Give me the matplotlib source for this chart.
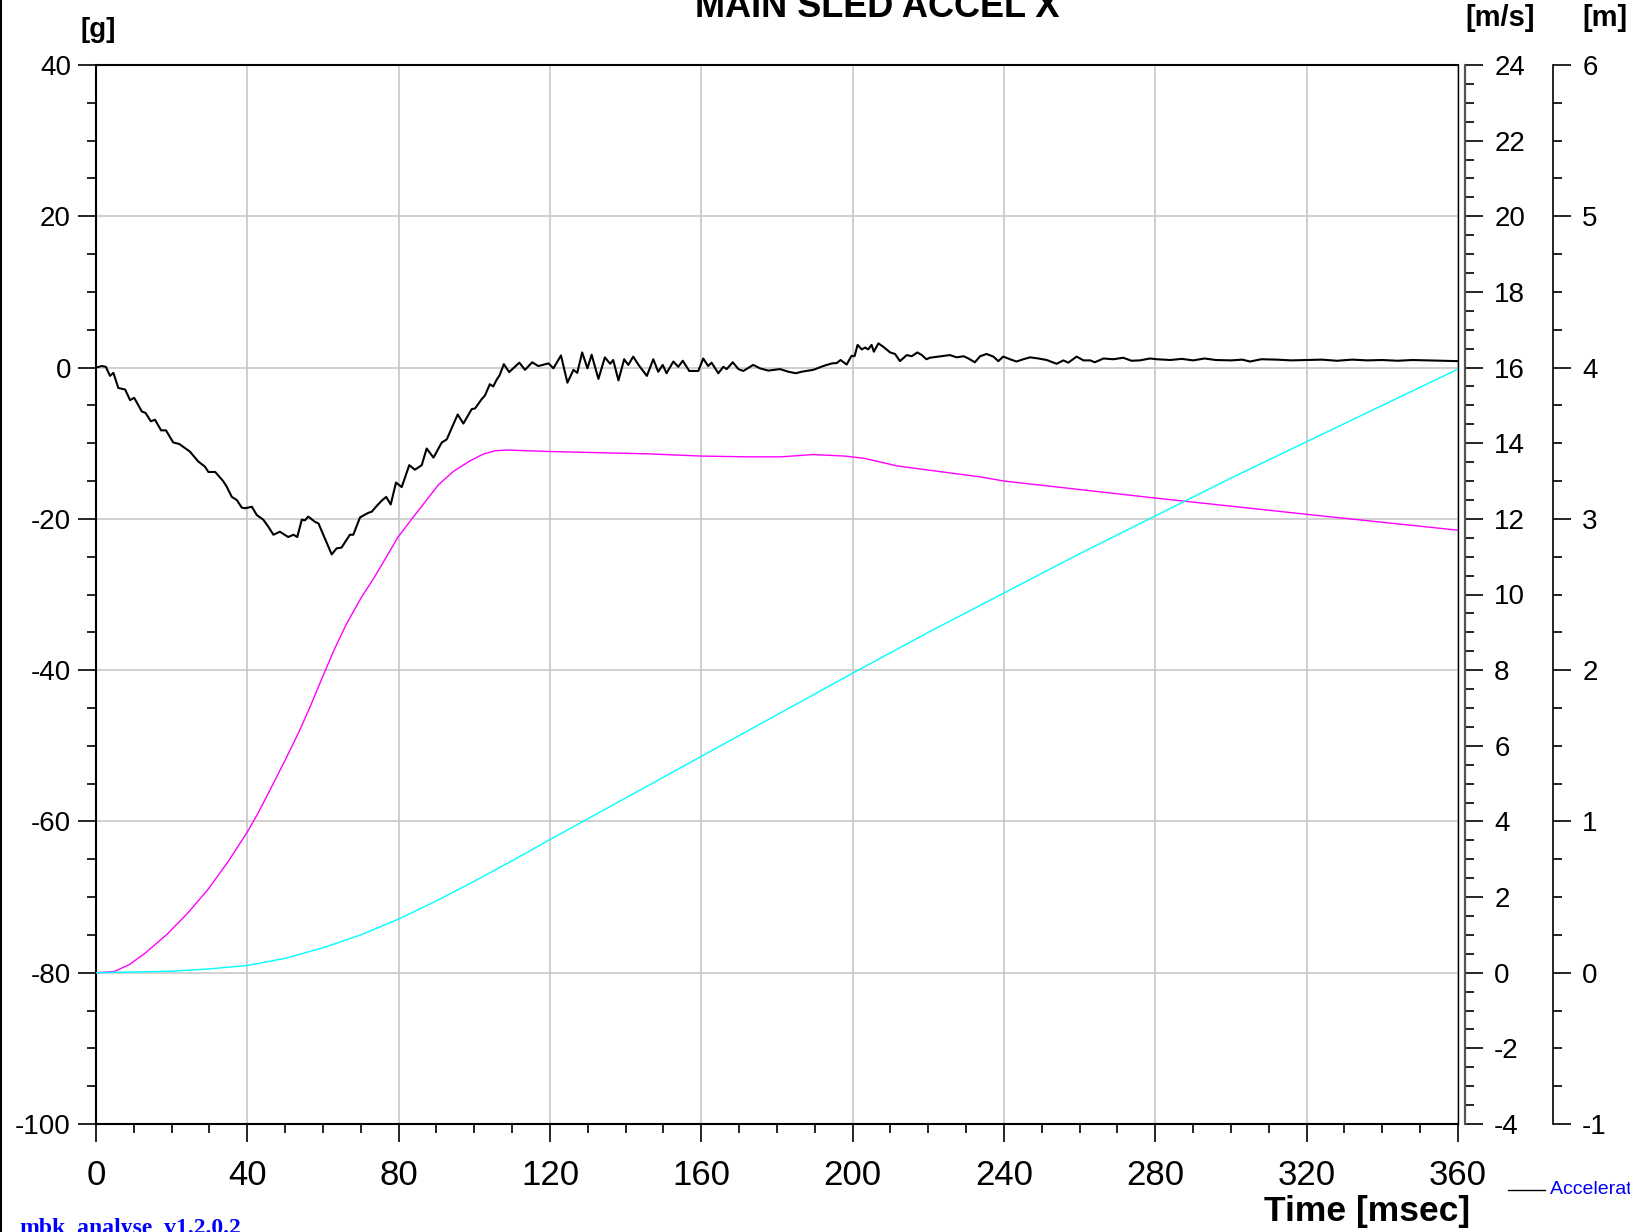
import matplotlib
matplotlib.use("Agg")
import matplotlib.pyplot as plt
from matplotlib.ticker import MultipleLocator
from matplotlib.lines import Line2D

plt.rcParams['font.family'] = ['Liberation Sans', 'DejaVu Sans']
plt.rcParams['axes.unicode_minus'] = False

# acceleration [g] (black)
acc_t = [0, 1.5, 2.6, 3.7, 4.6, 5.9, 7.7, 9.0, 10.1, 12.1, 13.1, 14.5, 15.6, 17.2, 18.5,
         20.4, 22.0, 24.8, 27.0, 28.8, 29.7, 31.5, 33.6, 34.5, 35.9, 37.2, 38.5, 39.4,
         41.2, 42.5, 44.2, 45.5, 46.9, 48.6, 50.8, 52.2, 53.2, 54.4, 55.2, 56.1, 57.9,
         58.8, 60.5, 62.3, 63.6, 64.9, 67.1, 68.0, 69.8, 72.0, 72.9, 74.0, 75.5, 76.7,
         77.9, 79.3, 80.8, 82.8, 84.3, 86.1, 87.4, 89.2, 91.4, 92.7, 95.6, 97.1, 99.3,
         100.2, 101.9, 102.8, 104.1, 105.0, 105.9, 106.7, 107.8, 109.2, 111.9, 113.4,
         115.3, 116.9, 119.6, 120.9, 122.9, 124.6, 126.2, 127.2, 128.5, 129.9, 131.0,
         132.8, 134.5, 135.9, 136.7, 138.1, 139.6, 140.7, 142.0, 143.4, 145.6, 147.3,
         148.6, 149.8, 150.8, 152.6, 153.9, 155.1, 156.8, 159.2, 160.5, 161.8, 162.7,
         164.5, 165.8, 166.7, 168.3, 169.8, 171.1, 173.7, 175.5, 177.7, 180.8, 183.0,
         185.0, 186.5, 189.6, 192.2, 194.5, 195.8, 196.8, 198.4, 199.7, 200.5, 201.3,
         202.4, 203.3, 204.1, 205.0, 205.6, 206.8, 208.1, 209.9, 211.2, 212.5, 214.3,
         215.6, 217.1, 218.3, 219.5, 220.4, 223.5, 225.7, 227.5, 229.3, 230.6, 232.3,
         233.7, 235.4, 237.2, 238.5, 239.8, 241.6, 243.3, 245.1, 246.9, 249.1, 251.3,
         253.9, 255.7, 257.0, 259.2, 261.0, 262.8, 264.0, 266.3, 268.9, 271.5, 273.7,
         275.9, 278.6, 280.4, 284, 287, 290, 293, 296, 300, 303, 305, 308, 312, 316,
         320, 324, 328, 332, 336, 340, 344, 348, 352, 356, 360]
acc_g = [0.0, 0.2, 0.1, -1.1, -0.7, -2.7, -2.9, -4.3, -4.0, -5.8, -6.0, -7.1, -6.9, -8.3, -8.3,
         -9.9, -10.1, -11.1, -12.4, -13.1, -13.8, -13.8, -15.0, -15.7, -17.1, -17.5, -18.5, -18.6,
         -18.4, -19.5, -20.1, -21.0, -22.1, -21.7, -22.4, -22.1, -22.4, -20.1, -20.2, -19.7, -20.4,
         -20.6, -22.6, -24.7, -23.9, -23.8, -22.1, -22.1, -19.8, -19.2, -19.05, -18.4, -17.6, -17.1,
         -18.1, -15.2, -15.8, -12.9, -13.5, -12.9, -10.7, -11.9, -9.9, -9.5, -6.2, -7.4, -5.5,
         -5.4, -4.2, -3.7, -2.2, -2.5, -1.6, -1.0, 0.45, -0.6, 0.65, -0.3,
         0.7, 0.2, 0.55, -0.1, 1.6, -2.0, -0.3, -0.7, 2.0, -0.1, 1.7,
         -1.5, 1.35, 0.5, 1.0, -1.7, 1.1, 0.35, 1.45, 0.35, -1.1, 1.1,
         -0.55, 0.35, -0.75, 0.8, 0.1, 0.9, -0.45, -0.45, 1.2, 0.2, 0.65,
         -0.75, 0.1, -0.2, 0.7, -0.2, -0.45, 0.35, -0.1, -0.4, -0.2, -0.55,
         -0.75, -0.55, -0.3, 0.2, 0.55, 0.6, 1.0, 0.4, 1.55, 1.5, 3.0,
         2.4, 2.65, 2.4, 3.0, 2.1, 3.2, 2.75, 2.0, 1.8, 0.85, 1.65,
         1.5, 2.0, 1.65, 1.1, 1.3, 1.5, 1.65, 1.35, 1.5, 1.2, 0.7,
         1.5, 1.8, 1.45, 0.85, 1.45, 1.1, 0.8, 1.1, 1.35, 1.2, 1.0,
         0.5, 0.95, 0.65, 1.45, 0.95, 0.95, 0.7, 1.2, 1.1, 1.3, 0.9,
         0.95, 1.2, 1.1, 1.0, 1.15, 0.95, 1.2, 1.0, 0.95, 1.05, 0.8, 1.1, 1.05, 0.95,
         1.0, 1.05, 0.9, 1.05, 0.95, 1.0, 0.9, 1.0, 0.95, 0.9, 0.85]

# velocity [m/s] (magenta)
vel_t = [0, 4.8, 8.9, 13.0, 18.6, 24.0, 29.6, 35.0, 40.0, 43.0, 46.6, 50.0, 53.8, 56.8,
         59.8, 63.0, 66.2, 70.0, 73.6, 76.8, 79.7, 83.5, 87.4, 90.5, 94.4, 98.8, 102.3,
         105.4, 108.5, 120, 145.6, 160, 172, 181, 189.6, 198, 203, 207, 211.7, 220, 233.7,
         240, 280, 320, 360]
vel_v = [0, 0.03, 0.22, 0.52, 1.0, 1.55, 2.2, 2.95, 3.72, 4.25, 4.95, 5.62, 6.4, 7.08,
         7.8, 8.55, 9.22, 9.9, 10.46, 11.0, 11.5, 12.0, 12.5, 12.9, 13.25, 13.53, 13.71,
         13.8, 13.82, 13.78, 13.72, 13.66, 13.64, 13.64, 13.70, 13.66, 13.6, 13.51, 13.4, 13.29, 13.11,
         13.0, 12.55, 12.12, 11.7]

# displacement [m] (cyan)
dis_t = [0, 20, 30, 40, 50, 60, 70, 80, 90, 100, 110, 120, 140, 160, 180, 200, 220,
         240, 260, 280, 300, 320, 340, 360]
dis_m = [0, 0.01, 0.025, 0.048, 0.095, 0.165, 0.25, 0.355, 0.475, 0.605, 0.74, 0.88,
         1.155, 1.43, 1.705, 1.98, 2.25, 2.51, 2.77, 3.02, 3.27, 3.51, 3.75, 3.99]

fig = plt.figure(figsize=(16.31, 12.32), dpi=100)
ax = fig.add_axes([96/1631, 1-1124/1232, 1362/1631, 1059/1232])

ax.plot(acc_t, acc_g, color='black', lw=1.5, zorder=5, solid_joinstyle='round')
ax.set_xlim(0, 360)
ax.set_ylim(-100, 40)
ax.set_xticks(range(0, 361, 40))
ax.set_yticks(range(-100, 41, 20))
ax.xaxis.set_minor_locator(MultipleLocator(10))
ax.yaxis.set_minor_locator(MultipleLocator(5))
ax.grid(which='major', color='#c8c8c8', lw=1.2)
ax.set_axisbelow(True)
ax.tick_params(which='major', direction='out', length=13, width=1.2)
ax.tick_params(which='minor', direction='out', length=6.5, width=1.2)
ax.tick_params(axis='x', labelsize=25, pad=12)
ax.tick_params(axis='y', labelsize=20, pad=5)
ax.tick_params(axis='y', which='both', right=False)
for s in ['left', 'bottom', 'top']:
    ax.spines[s].set_linewidth(1.5)
ax.spines['right'].set_linewidth(1.0)

# velocity axis
ax2 = ax.twinx()
ax2.plot(vel_t, vel_v, color='#ff00ff', lw=1.0)
ax2.set_ylim(-4, 24)
ax2.set_yticks(range(-4, 25, 2))
ax2.yaxis.set_minor_locator(MultipleLocator(0.5))
ax2.spines['right'].set_position(('axes', 1.00514))
ax2.spines['right'].set_linewidth(1.6)
ax2.spines['right'].set_color('#555555')

# displacement axis
ax3 = ax.twinx()
ax3.plot(dis_t, dis_m, color='#00ffff', lw=1.0)
ax3.set_ylim(-1, 6)
ax3.set_yticks(range(-1, 7, 1))
ax3.yaxis.set_minor_locator(MultipleLocator(0.25))
ax3.spines['right'].set_position(('axes', 1.0698))
ax3.spines['right'].set_linewidth(1.2)

for a in (ax2, ax3):
    for s in ['left', 'top', 'bottom']:
        a.spines[s].set_visible(False)
    a.tick_params(which='major', direction='out', length=13, width=1.2, labelsize=20, pad=8)
    a.tick_params(which='minor', direction='out', length=6.5, width=1.2)

# texts
fig.text(877/1631, 1-17/1232, 'MAIN SLED ACCEL X', ha='center', va='baseline',
         fontsize=26, fontweight='bold')
fig.text(81/1631, 1-30/1232, '[g]', ha='left', va='center', fontsize=20, fontweight='bold')
fig.text(1500/1631, 1-18/1232, '[m/s]', ha='center', va='center', fontsize=21, fontweight='bold')
fig.text(1605/1631, 1-18/1232, '[m]', ha='center', va='center', fontsize=21, fontweight='bold')
fig.text(1470/1631, 1-1212/1232, 'Time [msec]', ha='right', va='center',
         fontsize=25.5, fontweight='bold')
fig.text(19/1631, 1-1234/1232, 'mbk_analyse_v1.2.0.2', ha='left', va='baseline',
         fontsize=17, fontweight='bold', color='#0000ff', family='Liberation Serif')

# legend entry cut by the border
fig.add_artist(Line2D([1508/1631, 1545/1631], [1-1190/1232, 1-1190/1232],
                      color='black', lw=1.0, transform=fig.transFigure))
fig.text(1550/1631, 1-1190/1232, 'Acceleration X', ha='left', va='center',
         fontsize=14, color='#0000ff')

# image border on the left
fig.add_artist(Line2D([1/1631, 1/1631], [0, 1], color='black', lw=1.5,
                      transform=fig.transFigure))

fig.savefig('out.png', dpi=100)
